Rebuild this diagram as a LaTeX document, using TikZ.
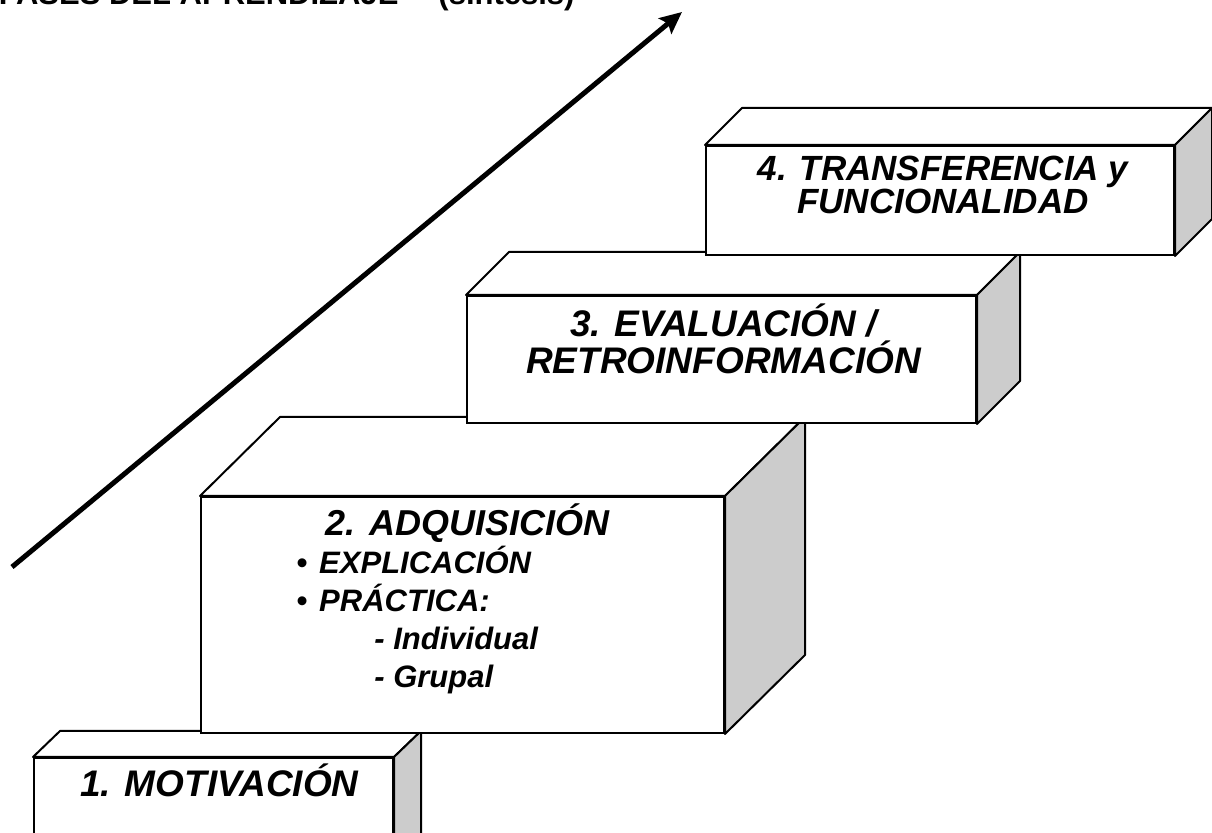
\documentclass[tikz,border=0pt]{standalone}
\usepackage{fontspec}
\setmainfont{Liberation Sans}
\usetikzlibrary{arrows.meta, calc, fit}

\begin{document}
\begin{tikzpicture}[
    x={(0.5pt,0)}, y={(0,-0.5pt)},
    face/.style={draw, fill=white, line width=1pt, inner sep=0pt},
    top/.style={draw, fill=white, line width=1pt, line join=round},
    side/.style={draw, fill=gray!40, line width=1pt, line join=round},
    caption/.style={font=\bfseries\itshape, inner sep=0pt, anchor=base, align=center},
    rise/.style={-{Stealth[length=11pt, width=10pt, inset=2pt]}, line width=2.5pt}
]
    \useasboundingbox (0,0) rectangle (1212,833);

    \node[caption, font=\bfseries\fontsize{15.5}{18}\selectfont, anchor=base east] (title) at (575,5) {FASES DEL APRENDIZAJE\hspace{20pt}(síntesis)};

    % step 1
    \coordinate (b1a) at (34,758); \coordinate (b1b) at (393,870);
    \node[face, fit=(b1a)(b1b)] (b1) {};
    \filldraw[top] (b1.north west) -- ++(27,-26) -- ($(b1.north east)+(27,-26)$) -- (b1.north east) -- cycle;
    \filldraw[side] (b1.north east) -- ++(27,-26) -- ($(b1.south east)+(27,-26)$) -- (b1.south east) -- cycle;
    \node[caption, font=\bfseries\itshape\fontsize{18.5}{19}\selectfont] (t1) at ($(b1.north)+(6,40)$) {1. MOTIVACIÓN};

    % step 2
    \coordinate (b2a) at (201,497); \coordinate (b2b) at (724,733);
    \node[face, fit=(b2a)(b2b)] (b2) {};
    \filldraw[top] (b2.north west) -- ++(80,-79) -- ($(b2.north east)+(80,-79)$) -- (b2.north east) -- cycle;
    \filldraw[side] (b2.north east) -- ++(80,-79) -- ($(b2.south east)+(80,-79)$) -- (b2.south east) -- cycle;
    \node[caption, font=\bfseries\itshape\fontsize{18}{19}\selectfont] (t2) at ($(b2.north)+(5,40)$) {2. ADQUISICIÓN};
    \node[caption, anchor=base west, align=left, font=\bfseries\itshape\fontsize{15.5}{19}\selectfont] (t2list) at ($(b2.north west)+(96,192)$)
        {\textbullet\hspace*{6pt}EXPLICACIÓN\\ \textbullet\hspace*{6pt}PRÁCTICA:\\ \hspace*{39pt}- Individual\\ \hspace*{39pt}- Grupal};

    % step 3
    \coordinate (b3a) at (467,296); \coordinate (b3b) at (976,423);
    \node[face, fit=(b3a)(b3b)] (b3) {};
    \filldraw[top] (b3.north west) -- ++(43,-43) -- ($(b3.north east)+(43,-43)$) -- (b3.north east) -- cycle;
    \filldraw[side] (b3.north east) -- ++(43,-43) -- ($(b3.south east)+(43,-43)$) -- (b3.south east) -- cycle;
    \node[caption, font=\bfseries\itshape\fontsize{18.5}{18.5}\selectfont] (t3) at ($(b3.north)+(2,79)$) {3. EVALUACIÓN /\\ RETROINFORMACIÓN};

    % step 4
    \coordinate (b4a) at (706,146); \coordinate (b4b) at (1174,255);
    \node[face, fit=(b4a)(b4b)] (b4) {};
    \filldraw[top] (b4.north west) -- ++(37,-37) -- ($(b4.north east)+(37,-37)$) -- (b4.north east) -- cycle;
    \filldraw[side] (b4.north east) -- ++(37,-37) -- ($(b4.south east)+(37,-37)$) -- (b4.south east) -- cycle;
    \node[caption, font=\bfseries\itshape\fontsize{17.5}{14}\selectfont] (t4) at ($(b4.north)+(3,69)$) {4. TRANSFERENCIA y\\ FUNCIONALIDAD};

    % progress arrow
    \coordinate (low) at (12,567);
    \coordinate (high) at (682,12);
    \draw[rise] (low) -- (high);
\end{tikzpicture}
\end{document}
